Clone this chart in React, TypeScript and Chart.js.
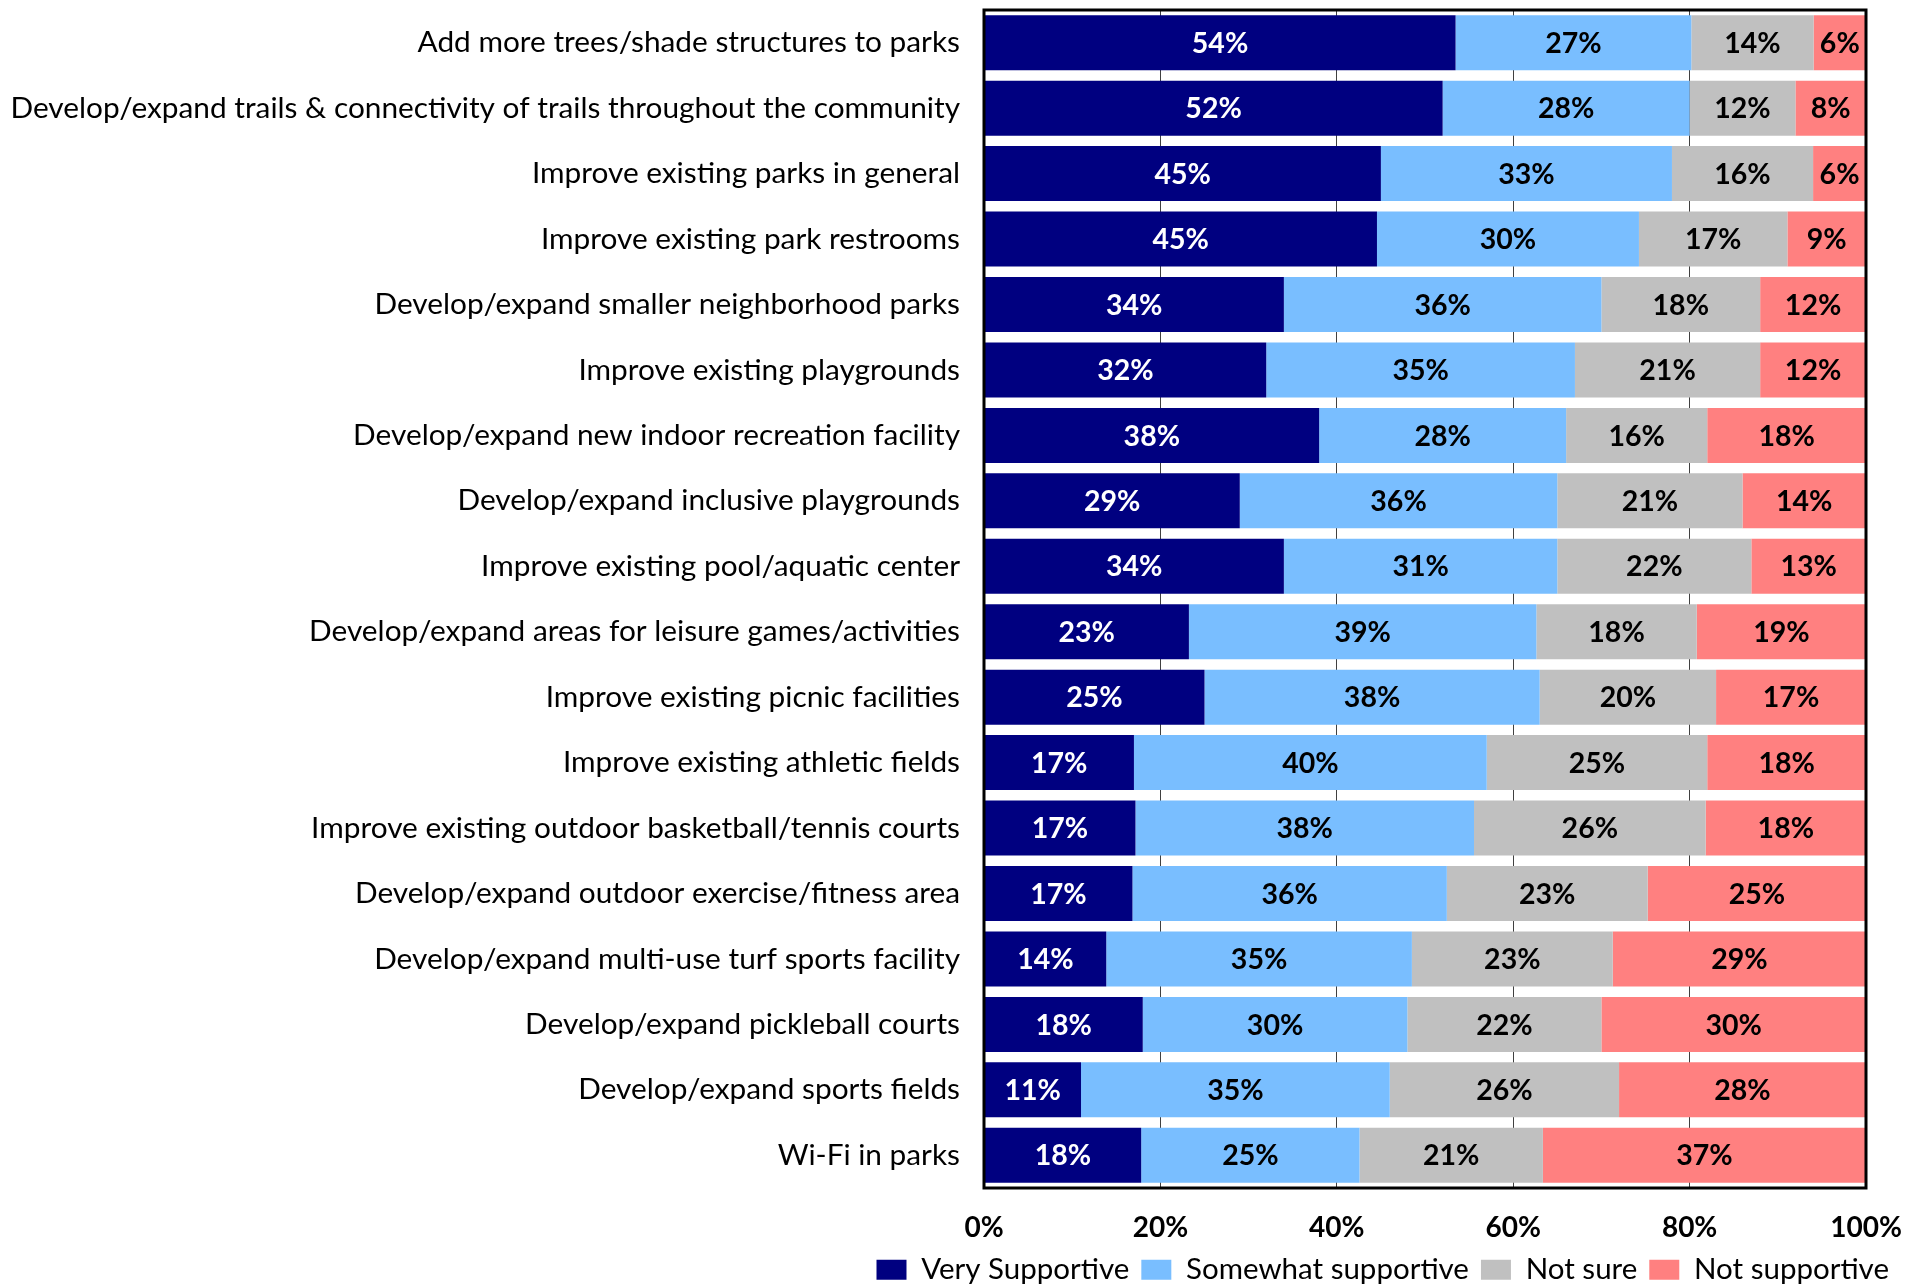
import React, { useEffect, useRef } from "react";
import { Chart, registerables } from "chart.js";

Chart.register(...registerables);

const categories = [
  "Add more trees/shade structures to parks",
  "Develop/expand trails & connectivity of trails throughout the community",
  "Improve existing parks in general",
  "Improve existing park restrooms",
  "Develop/expand smaller neighborhood parks",
  "Improve existing playgrounds",
  "Develop/expand new indoor recreation facility",
  "Develop/expand inclusive playgrounds",
  "Improve existing pool/aquatic center",
  "Develop/expand areas for leisure games/activities",
  "Improve existing picnic facilities",
  "Improve existing athletic fields",
  "Improve existing outdoor basketball/tennis courts",
  "Develop/expand outdoor exercise/fitness area",
  "Develop/expand multi-use turf sports facility",
  "Develop/expand pickleball courts",
  "Develop/expand sports fields",
  "Wi-Fi in parks",
];

const verySupportive = [54, 52, 45, 45, 34, 32, 38, 29, 34, 23, 25, 17, 17, 17, 14, 18, 11, 18];
const somewhatSupportive = [27, 28, 33, 30, 36, 35, 28, 36, 31, 39, 38, 40, 38, 36, 35, 30, 35, 25];
const notSure = [14, 12, 16, 17, 18, 21, 16, 21, 22, 18, 20, 25, 26, 23, 23, 22, 26, 21];
const notSupportive = [6, 8, 6, 9, 12, 12, 18, 14, 13, 19, 17, 18, 18, 25, 29, 30, 28, 37];

const seriesNames = ["Very Supportive", "Somewhat supportive", "Not sure", "Not supportive"];
const seriesColors = ["#000080", "#79BEFF", "#C0C0C0", "#FF8080"];
const seriesLabelColors = ["#FFFFFF", "#000000", "#000000", "#000000"];
const xTickValues = [0, 20, 40, 60, 80, 100];

const FONT = "Lato, 'Noto Sans', sans-serif";

const seriesValues = [verySupportive, somewhatSupportive, notSure, notSupportive];
const rowTotals = categories.map((_, i) => seriesValues.reduce((s, arr) => s + arr[i], 0));

const valueLabels = {
  id: "valueLabels",
  afterDatasetsDraw(chart: any) {
    const ctx = chart.ctx;
    ctx.save();
    ctx.font = `bold 28.5px ${FONT}`;
    ctx.textAlign = "center";
    ctx.textBaseline = "middle";
    chart.data.datasets.forEach((_: any, di: number) => {
      const meta = chart.getDatasetMeta(di);
      meta.data.forEach((bar: any, i: number) => {
        const { x, base, y } = bar.getProps(["x", "base", "y"], true);
        ctx.fillStyle = seriesLabelColors[di];
        ctx.fillText(seriesValues[di][i] + "%", (x + base) / 2, y + 1);
      });
    });
    ctx.restore();
  },
};

const frame = {
  id: "frame",
  afterDatasetsDraw(chart: any) {
    const ctx = chart.ctx;
    const { left, top, right, bottom } = chart.chartArea;
    ctx.save();
    ctx.strokeStyle = "#000000";
    ctx.lineWidth = 3;
    ctx.strokeRect(left, top, right - left, bottom - top);
    ctx.restore();
  },
};

export default function App() {
  const ref = useRef<HTMLCanvasElement | null>(null);

  useEffect(() => {
    if (!ref.current) return;
    const chart = new Chart(ref.current, {
      type: "bar",
      data: {
        labels: categories,
        datasets: seriesValues.map((vals, k) => ({
          label: seriesNames[k],
          data: vals.map((v, i) => (v / rowTotals[i]) * 100),
          backgroundColor: seriesColors[k],
          borderWidth: 0,
          categoryPercentage: 1,
          barPercentage: 0.84,
        })),
      },
      options: {
        indexAxis: "y",
        responsive: false,
        maintainAspectRatio: false,
        animation: false,
        layout: { padding: { top: 2, right: 18, bottom: 0, left: 0 } },
        plugins: {
          legend: {
            position: "bottom",
            align: "end",
            maxHeight: 44,
            labels: {
              boxWidth: 30,
              boxHeight: 20,
              padding: 12,
              color: "#000000",
              font: { family: FONT, size: 29.5 },
            },
          },
          tooltip: { enabled: false },
        },
        scales: {
          x: {
            stacked: true,
            min: 0,
            max: 100,
            afterBuildTicks: (s: any) => {
              s.ticks = xTickValues.map((v) => ({ value: v }));
            },
            ticks: {
              callback: (v: any) => v + "%",
              color: "#000000",
              font: { family: FONT, size: 28, weight: "bold" },
              padding: 23,
              maxRotation: 0,
            },
            grid: { color: "#404040", lineWidth: 1, drawTicks: false },
            border: { display: false },
            afterFit: (s: any) => {
              s.height = 55;
              s.paddingRight = 53;
            },
          },
          y: {
            stacked: true,
            ticks: {
              color: "#000000",
              font: { family: FONT, size: 29.8 },
              padding: 24,
              autoSkip: false,
            },
            grid: { display: false, drawTicks: false },
            border: { display: false },
            afterFit: (s: any) => {
              s.width = 976;
              s.paddingTop = 0;
              s.paddingBottom = 0;
            },
          },
        },
      } as any,
      plugins: [frame, valueLabels],
    });
    return () => chart.destroy();
  }, []);

  return (
    <div style={{ position: "fixed", left: 8, top: 8, width: 1911, height: 1279 }}>
      <canvas ref={ref} width={1911} height={1279} style={{ display: "block" }} />
    </div>
  );
}
